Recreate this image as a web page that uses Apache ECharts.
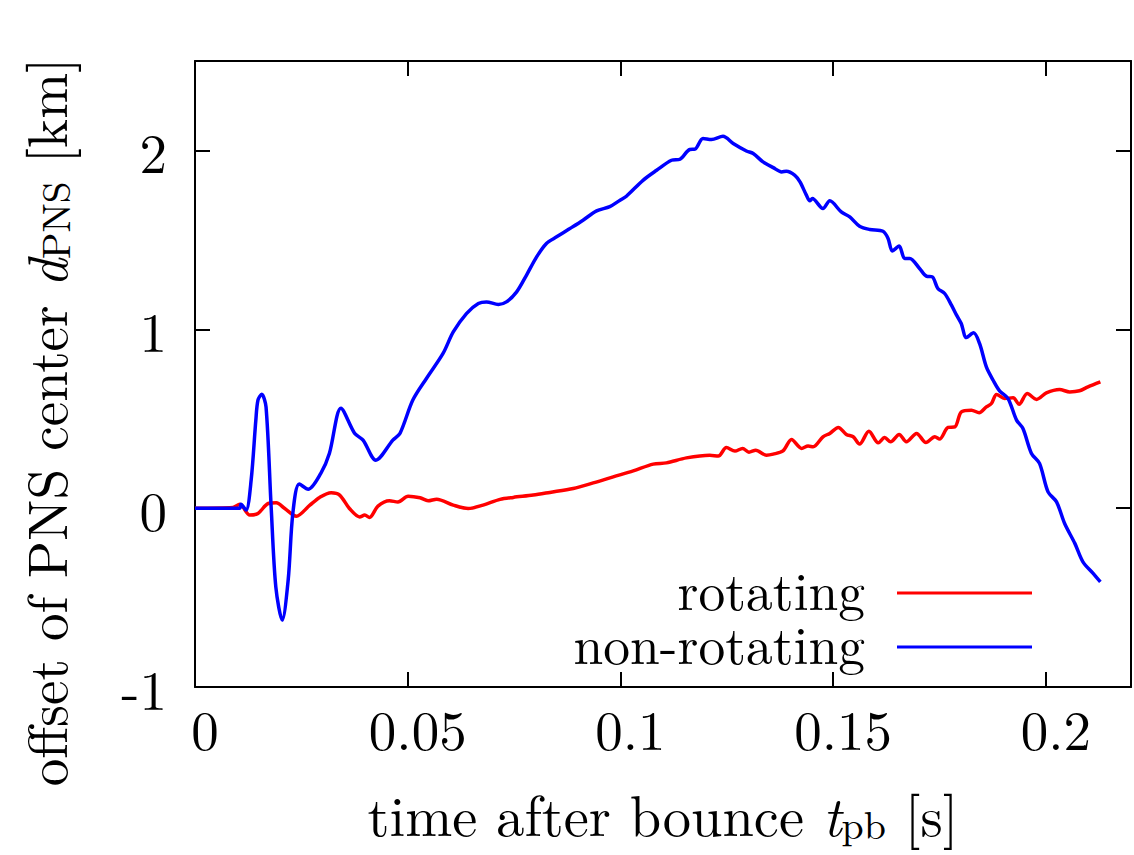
<!DOCTYPE html>
<html>
<head>
<meta charset="utf-8">
<script src="https://cdn.jsdelivr.net/npm/echarts@6/dist/echarts.min.js"></script>
<style>html,body{margin:0;padding:0;background:#fff}#c{width:1134px;height:855px}</style>
</head>
<body>
<div id="c"></div>
<script>
// time after bounce [s], offset [km]
const rotatingT = [0,0.0089,0.0105,0.0129,0.0148,0.0172,0.0191,0.0211,0.0238,0.0270,0.0293,0.0320,0.0340,0.0363,0.0387,0.0399,0.0410,0.0430,0.0457,0.0477,0.0501,0.0529,0.0548,0.0568,0.0607,0.0642,0.0677,0.0717,0.0748,0.0795,0.0834,0.0889,0.0936,0.0983,0.1030,0.1077,0.1108,0.1155,0.1210,0.1230,0.1249,0.1269,0.1287,0.1302,0.1318,0.1343,0.1359,0.1382,0.1402,0.1426,0.1441,0.1453,0.1476,0.1492,0.1512,0.1531,0.1547,0.1562,0.1584,0.1606,0.1621,0.1635,0.1655,0.1672,0.1696,0.1718,0.1739,0.1750,0.1770,0.1786,0.1801,0.1825,0.1843,0.1860,0.1872,0.1884,0.1903,0.1923,0.1937,0.1956,0.1978,0.2001,0.2032,0.2056,0.2079,0.2099,0.2128];
const rotatingD = [0,0.004,0.022,-0.039,-0.030,0.026,0.030,-0.002,-0.045,0.017,0.060,0.086,0.073,-0.002,-0.049,-0.039,-0.052,0.011,0.041,0.035,0.067,0.058,0.041,0.050,0.017,-0.002,0.017,0.049,0.060,0.073,0.088,0.110,0.141,0.175,0.208,0.246,0.253,0.281,0.296,0.291,0.339,0.319,0.334,0.313,0.324,0.296,0.302,0.320,0.384,0.334,0.347,0.343,0.399,0.418,0.451,0.412,0.399,0.358,0.430,0.365,0.395,0.371,0.412,0.371,0.418,0.367,0.399,0.386,0.451,0.454,0.538,0.548,0.533,0.566,0.585,0.636,0.613,0.617,0.581,0.641,0.608,0.644,0.663,0.650,0.656,0.678,0.706];
const nonRotatingT = [0,0.0105,0.0108,0.0120,0.0132,0.0143,0.0148,0.0157,0.0167,0.0179,0.0190,0.0205,0.0219,0.0230,0.0245,0.0266,0.0296,0.0316,0.0343,0.0375,0.0395,0.0425,0.0465,0.0482,0.0512,0.0544,0.0583,0.0607,0.0638,0.0666,0.0685,0.0713,0.0732,0.0756,0.0779,0.0803,0.0826,0.0850,0.0881,0.0912,0.0944,0.0975,0.0999,0.1014,0.1053,0.1085,0.1120,0.1140,0.1163,0.1175,0.1194,0.1214,0.1241,0.1265,0.1296,0.1312,0.1335,0.1359,0.1379,0.1390,0.1410,0.1422,0.1437,0.1445,0.1451,0.1476,0.1492,0.1519,0.1539,0.1562,0.1586,0.1617,0.1629,0.1639,0.1655,0.1668,0.1680,0.1703,0.1719,0.1733,0.1746,0.1762,0.1778,0.1790,0.1801,0.1813,0.1830,0.1844,0.1860,0.1876,0.1891,0.1911,0.1931,0.1946,0.1966,0.1985,0.2005,0.2025,0.2044,0.2068,0.2087,0.2111,0.2128];
const nonRotatingD = [0,0,0.022,-0.011,0.157,0.492,0.604,0.637,0.565,0.006,-0.442,-0.626,-0.402,-0.028,0.135,0.106,0.196,0.307,0.559,0.419,0.380,0.268,0.380,0.419,0.604,0.725,0.865,0.985,1.088,1.144,1.153,1.139,1.153,1.209,1.302,1.405,1.480,1.517,1.563,1.610,1.662,1.686,1.722,1.744,1.833,1.889,1.945,1.951,2.005,2.007,2.067,2.061,2.079,2.039,1.997,1.983,1.936,1.904,1.880,1.884,1.861,1.824,1.750,1.718,1.731,1.675,1.718,1.656,1.628,1.576,1.558,1.548,1.508,1.438,1.465,1.396,1.396,1.340,1.297,1.293,1.228,1.200,1.135,1.079,1.032,0.954,0.980,0.921,0.790,0.715,0.656,0.613,0.492,0.445,0.306,0.250,0.091,0.035,-0.086,-0.197,-0.300,-0.365,-0.412];
const xTickLabels = ['0','0.05','0.1','0.15','0.2'];
const yTickLabels = ['-1','0','1','2'];
const seriesNames = ['rotating','non-rotating'];

const FONT = 'Latin Modern Roman';
const FS = 55;
const LFS = 53.5;
const XFS = 56.5;
const pair = (t, d) => t.map((v, i) => [v, d[i]]);
const xFmt = v => { const k = Math.round(v / 0.05); return Math.abs(v - k * 0.05) < 1e-9 && k >= 0 && k < xTickLabels.length ? xTickLabels[k] : ''; };
const yFmt = v => { const k = Math.round(v + 1); return Math.abs(v + 1 - k) < 1e-9 && k >= 0 && k < yTickLabels.length ? yTickLabels[k] : ''; };
const axLine = {show: true, onZero: false, lineStyle: {color: '#000', width: 2}};
const tick = {show: true, inside: true, length: 15, lineStyle: {color: '#000', width: 2}};
const mkRich = fs => ({
  i: {fontFamily: FONT, fontSize: fs, fontStyle: 'italic', color: '#000'},
  sub: {fontFamily: FONT, fontSize: Math.round(fs * 0.71), color: '#000', padding: [20, 0, 0, 0]}
});
// legend key: a 3px line sitting near the bottom of a 13px box, so the label centres a little above it
const KEY = 'path://M0,0H0.05V0.05H0ZM0,10H135V13H0Z';
const legendText = {fontFamily: FONT, fontSize: LFS, color: '#000', lineHeight: 48, padding: [0, 27, 0, 0]};

const chart = echarts.init(document.getElementById('c'), null, {renderer: 'svg'});
chart.setOption({
  animation: false,
  backgroundColor: '#fff',
  textStyle: {fontFamily: FONT},
  grid: {left: 195, right: 3, top: 61, bottom: 168, containLabel: false},
  legend: [
    {data: [seriesNames[0]], right: 102, top: 561, padding: 0, align: 'right', icon: KEY, itemWidth: 135, itemHeight: 13,
     textStyle: legendText, selectedMode: false},
    {data: [seriesNames[1]], right: 102, top: 615, padding: 0, align: 'right', icon: KEY, itemWidth: 135, itemHeight: 13,
     textStyle: legendText, selectedMode: false}
  ],
  xAxis: [
    {type: 'value', min: 0, max: 0.22, interval: 0.05, position: 'bottom',
     axisLine: axLine, axisTick: tick, splitLine: {show: false},
     axisLabel: {formatter: xFmt, fontFamily: FONT, fontSize: FS, color: '#000', margin: 12, padding: [0, 0, 0, 20], showMaxLabel: false},
     name: 'time after bounce {i|t}{sub|pb} [s]', nameLocation: 'middle', nameGap: 95,
     nameTextStyle: {fontFamily: FONT, fontSize: XFS, color: '#000', rich: mkRich(XFS)}},
    {type: 'value', min: 0, max: 0.22, interval: 0.05, position: 'top',
     axisLine: axLine, axisTick: tick, splitLine: {show: false}, axisLabel: {show: false}}
  ],
  yAxis: [
    {type: 'value', min: -1, max: 2.5, interval: 1, position: 'left',
     axisLine: axLine, axisTick: tick, splitLine: {show: false},
     axisLabel: {formatter: yFmt, fontFamily: FONT, fontSize: FS, color: '#000', margin: 28, showMaxLabel: false},
     name: 'offset of PNS center {i|d}{sub|PNS} [km]', nameLocation: 'middle', nameGap: 122, nameRotate: 90,
     nameTextStyle: {fontFamily: FONT, fontSize: FS, color: '#000', padding: [0, 96, 0, 0], rich: mkRich(FS)}},
    {type: 'value', min: -1, max: 2.5, interval: 1, position: 'right',
     axisLine: axLine, axisTick: tick, splitLine: {show: false}, axisLabel: {show: false}}
  ],
  series: [
    {name: seriesNames[0], type: 'line', data: pair(rotatingT, rotatingD), showSymbol: false, symbol: 'none',
     smooth: 0.3, color: '#ff0000', lineStyle: {color: '#ff0000', width: 3.5}, z: 3},
    {name: seriesNames[1], type: 'line', data: pair(nonRotatingT, nonRotatingD), showSymbol: false, symbol: 'none',
     smooth: 0.3, color: '#0000ff', lineStyle: {color: '#0000ff', width: 3.5}, z: 4}
  ]
});
</script>
</body>
</html>
